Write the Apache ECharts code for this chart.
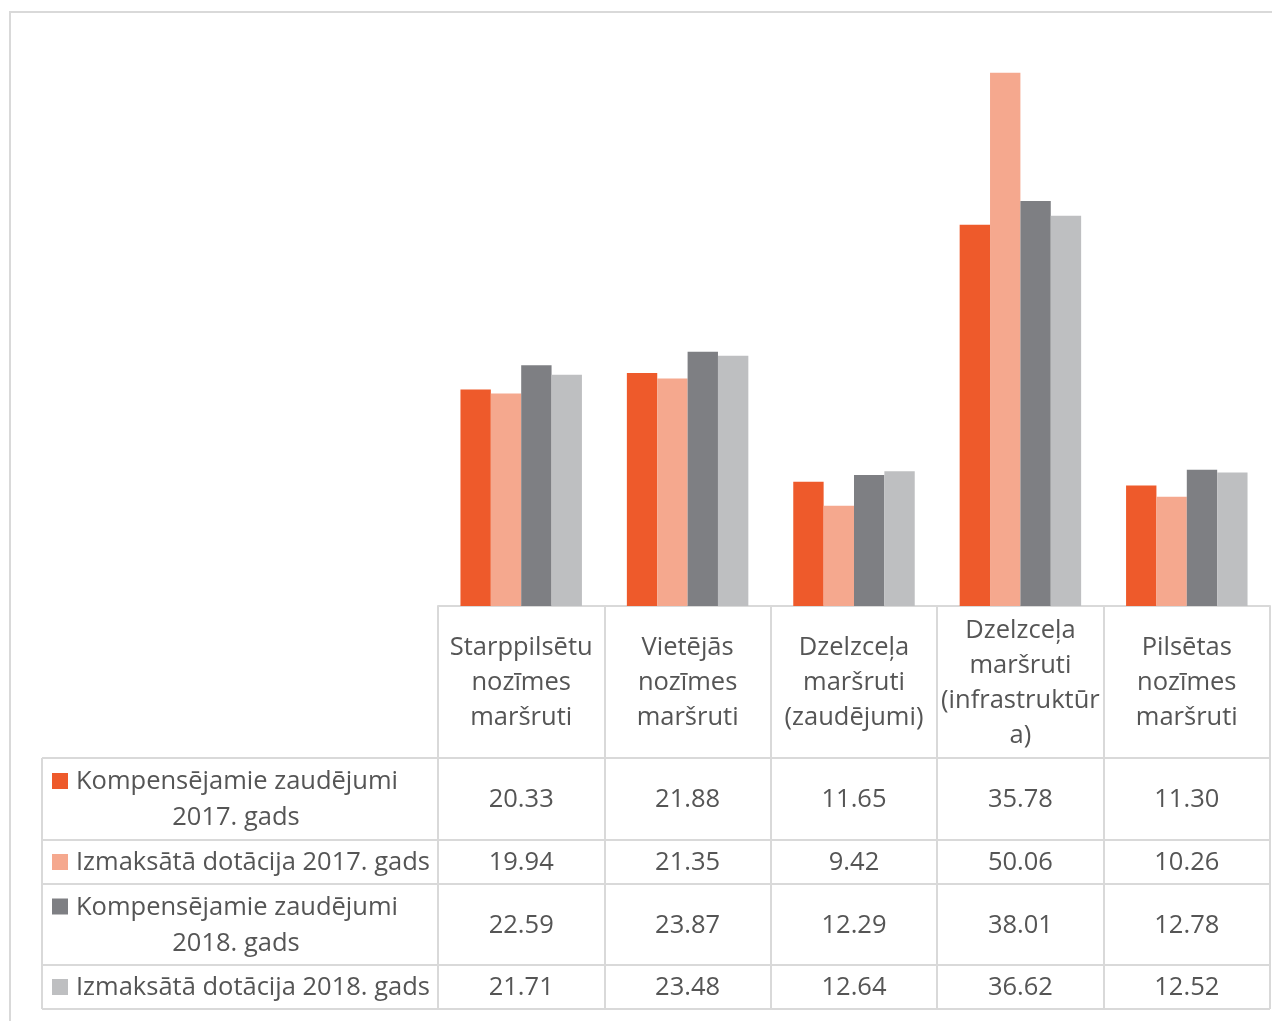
<!DOCTYPE html>
<html><head><meta charset="utf-8">
<script src="https://cdn.jsdelivr.net/npm/echarts@6/dist/echarts.min.js"></script>
<style>html,body{margin:0;padding:0;background:#fff}#c{width:1272px;height:1021px}</style>
</head><body><div id="c"></div>
<script>
const categories = ["Starppilsētu\nnozīmes\nmaršruti","Vietējās\nnozīmes\nmaršruti","Dzelzceļa\nmaršruti\n(zaudējumi)","Dzelzceļa\nmaršruti\n(infrastruktūr\na)","Pilsētas\nnozīmes\nmaršruti"];
const seriesNames = ["Kompensējamie zaudējumi 2017. gads","Izmaksātā dotācija 2017. gads","Kompensējamie zaudējumi 2018. gads","Izmaksātā dotācija 2018. gads"];
const comp2017 = [20.33,21.88,11.65,35.78,11.30];
const paid2017 = [19.94,21.35,9.42,50.06,10.26];
const comp2018 = [22.59,23.87,12.29,38.01,12.78];
const paid2018 = [21.71,23.48,12.64,36.62,12.52];
const seriesData = [comp2017,paid2017,comp2018,paid2018];
const colors = ["#EE5A2B","#F5A88E","#7E7F83","#BEBFC1"];

const FONT = "Open Sans";
const FS = 25.5;
const TXT = "#555555";
const LINE = "#D9D9D9";
const gridTop = 20, gridBottom = 415, gridLeft = 438, gridRight = 2;
const rowLines = [758,840,884,965,1009];
const rowCenters = [800,863,925.5,988];
const legendLines = [["Kompensējamie zaudējumi","2017. gads"],["Izmaksātā dotācija 2017. gads"],["Kompensējamie zaudējumi","2018. gads"],["Izmaksātā dotācija 2018. gads"]];

const xAxes = [{
  type:'category', data:categories, gridIndex:0, position:'bottom',
  axisLine:{show:true,lineStyle:{color:LINE,width:2}},
  axisTick:{show:true,length:1009-606,lineStyle:{color:LINE,width:2}},
  axisLabel:{interval:0,margin:77,verticalAlign:'middle',color:TXT,fontFamily:FONT,fontSize:FS,lineHeight:35,align:'center'}
}];
seriesData.forEach((arr,k)=>{
  xAxes.push({
    type:'category', data:categories, gridIndex:0, position:'bottom',
    axisLine:{show:false}, axisTick:{show:false},
    axisLabel:{interval:0,margin:rowCenters[k]-606,verticalAlign:'middle',color:TXT,fontFamily:FONT,fontSize:FS,
      formatter:(v,i)=>arr[i].toFixed(2)}
  });
});

const graphics = [
  {type:'rect',shape:{x:10,y:12,width:1400,height:1200},style:{fill:'none',stroke:LINE,lineWidth:2},silent:true},
  {type:'line',shape:{x1:42,y1:758,x2:42,y2:1009},style:{stroke:LINE,lineWidth:2}}
];
rowLines.forEach(y=>graphics.push({type:'line',shape:{x1:42,y1:y,x2:1270,y2:y},style:{stroke:LINE,lineWidth:2}}));
legendLines.forEach((lines,k)=>{
  const cy = rowCenters[k];
  const n = lines.length;
  const firstY = cy - (n-1)*36/2;
  graphics.push({type:'rect',shape:{x:52,y:firstY-9,width:16,height:16},style:{fill:colors[k]}});
  if(n===1){
    graphics.push({type:'text',x:76,y:cy,style:{text:lines[0],fill:TXT,font:FS+'px "'+FONT+'"',textAlign:'left',textVerticalAlign:'middle'}});
  } else {
    graphics.push({type:'text',x:76,y:firstY,style:{text:lines[0],fill:TXT,font:FS+'px "'+FONT+'"',textAlign:'left',textVerticalAlign:'middle'}});
    graphics.push({type:'text',x:236,y:firstY+36,style:{text:lines[1],fill:TXT,font:FS+'px "'+FONT+'"',textAlign:'center',textVerticalAlign:'middle'}});
  }
});

const chart = echarts.init(document.getElementById('c'));
chart.setOption({
  backgroundColor:'#fff',
  animation:false,
  grid:{left:gridLeft,right:gridRight,top:gridTop,bottom:gridBottom,containLabel:false},
  xAxis:xAxes,
  yAxis:{type:'value',min:0,max:55,show:false,splitLine:{show:false}},
  series:seriesData.map((arr,k)=>({
    name:seriesNames[k],type:'bar',data:arr,xAxisIndex:0,
    barGap:'0%',barCategoryGap:'27%',itemStyle:{color:colors[k]}
  })),
  graphic:graphics
});
</script></body></html>
